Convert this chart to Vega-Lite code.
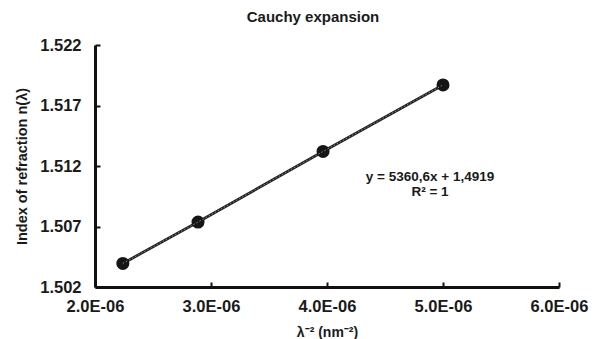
{
  "$schema": "https://vega.github.io/schema/vega-lite/v6.json",
  "width": 464,
  "height": 242,
  "autosize": "none",
  "padding": {"left": 95, "top": 45, "right": 36, "bottom": 52},
  "background": "white",
  "config": {
    "view": {"stroke": null},
    "font": "Liberation Sans"
  },
  "title": {
    "text": "Cauchy expansion",
    "fontSize": 15,
    "fontWeight": "bold",
    "font": "Liberation Sans",
    "color": "#1a1a1a",
    "anchor": "middle",
    "dx": -14,
    "offset": 12
  },
  "datasets": {
    "pts": [
      {"x": 2.24e-6, "n": 1.50395},
      {"x": 2.888e-6, "n": 1.50737},
      {"x": 3.966e-6, "n": 1.5132},
      {"x": 5.0e-6, "n": 1.5187}
    ],
    "ann": [
      {"x": 4.888e-6, "n": 1.5111, "t": "y = 5360,6x + 1,4919"},
      {"x": 4.888e-6, "n": 1.50985, "t": "R² = 1"}
    ]
  },
  "layer": [
    {
      "data": {"name": "pts"},
      "mark": {"type": "line", "color": "#222222", "strokeWidth": 2.8},
      "encoding": {
        "x": {
          "field": "x", "type": "quantitative",
          "scale": {"domain": [2e-6, 6e-6], "nice": false, "zero": false},
          "axis": {
            "values": [2e-6, 3e-6, 4e-6, 5e-6, 6e-6],
            "format": ".1e",
            "labelExpr": "replace(format(datum.value, '.1e'), 'e-6', 'E-06')",
            "title": "λ⁻² (nm⁻²)",
            "titleFontSize": 14,
            "titleFontWeight": "bold",
            "titleColor": "#1a1a1a",
            "titlePadding": 11,
            "labelFontSize": 16.5,
            "labelFontWeight": "bold",
            "labelColor": "#1a1a1a",
            "labelPadding": 16,
            "grid": false,
            "domainColor": "#111111",
            "domainWidth": 3,
            "tickColor": "#111111",
            "tickWidth": 2,
            "tickSize": -5,
            "labelFlush": false,
            "labelOverlap": false
          }
        },
        "y": {
          "field": "n", "type": "quantitative",
          "scale": {"domain": [1.502, 1.522], "nice": false, "zero": false},
          "axis": {
            "values": [1.502, 1.507, 1.512, 1.517, 1.522],
            "format": ".3f",
            "title": "Index of refraction n(λ)",
            "titleFontSize": 14.5,
            "titleFontWeight": "bold",
            "titleColor": "#1a1a1a",
            "titlePadding": 10,
            "labelFontSize": 16.5,
            "labelFontWeight": "bold",
            "labelColor": "#1a1a1a",
            "labelPadding": 19,
            "grid": false,
            "domainColor": "#111111",
            "domainWidth": 3,
            "tickColor": "#111111",
            "tickWidth": 2,
            "tickSize": -5,
            "labelFlush": false,
            "labelOverlap": false
          }
        }
      }
    },
    {
      "data": {"name": "pts"},
      "mark": {"type": "point", "filled": true, "shape": "circle", "size": 170, "color": "#151515", "opacity": 1},
      "encoding": {
        "x": {"field": "x", "type": "quantitative"},
        "y": {"field": "n", "type": "quantitative"}
      }
    },
    {
      "data": {"name": "pts"},
      "mark": {"type": "line", "color": "#8a8a8a", "strokeWidth": 1, "strokeDash": [1.5, 2]},
      "encoding": {
        "x": {"field": "x", "type": "quantitative"},
        "y": {"field": "n", "type": "quantitative"}
      }
    },
    {
      "data": {"name": "ann"},
      "mark": {"type": "text", "fontSize": 13.5, "fontWeight": "bold", "color": "#1a1a1a", "baseline": "middle", "align": "center"},
      "encoding": {
        "x": {"field": "x", "type": "quantitative"},
        "y": {"field": "n", "type": "quantitative"},
        "text": {"field": "t"}
      }
    }
  ]
}
